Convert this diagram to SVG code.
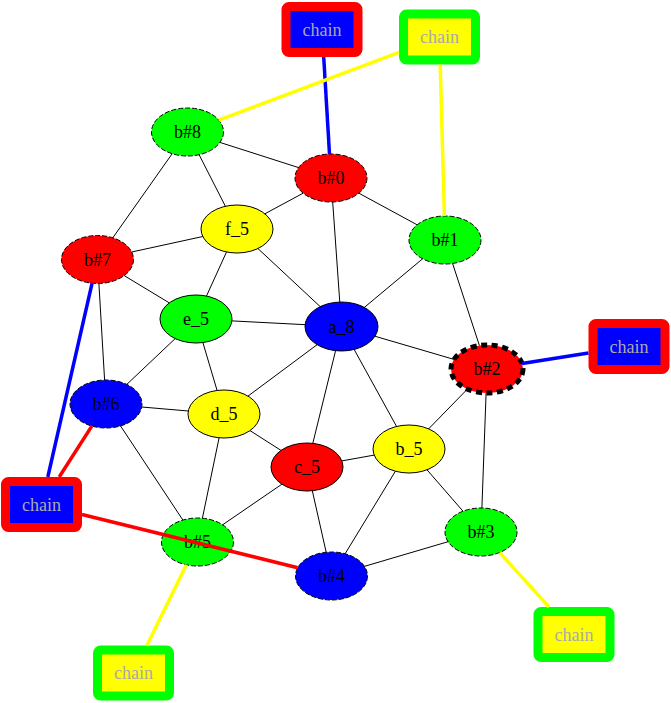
<svg xmlns="http://www.w3.org/2000/svg" width="671" height="703" viewBox="0 0 671 703">
<style>
text{font-family:"Liberation Serif","Times New Roman",serif;font-size:18px;text-anchor:middle}
.n{stroke:#000;stroke-width:1}
.d{stroke-dasharray:5,2}
.r{fill:#ff0000}.g{fill:#00ff00}.b{fill:#0000ff}.y{fill:#ffff00}
.ch{stroke-width:9}
.chr{stroke:#ff0000;fill:#0000ff}
.chg{stroke:#00ff00;fill:#ffff00}
.ct{fill:#aaaaaa}
.e line{stroke:#000;stroke-width:1}
.e line.cb{stroke:#0000ff;stroke-width:3.5}
.e line.cr{stroke:#ff0000;stroke-width:3.5}
.e line.cy{stroke:#ffff00;stroke-width:3.5}
</style>
<rect width="671" height="703" fill="#fff"/>
<g id="nodes">
<g id="b8"><ellipse class="n d g" cx="187.5" cy="132" rx="36" ry="24"/><text x="187.5" y="138">b#8</text></g>
<g id="b0"><ellipse class="n d r" cx="331" cy="178" rx="36" ry="24"/><text x="331" y="184">b#0</text></g>
<g id="f_5"><ellipse class="n y" cx="237" cy="229" rx="36" ry="24"/><text x="237" y="235">f_5</text></g>
<g id="b1"><ellipse class="n d g" cx="445" cy="240" rx="36" ry="24"/><text x="445" y="246">b#1</text></g>
<g id="b7"><ellipse class="n d r" cx="97.5" cy="259.5" rx="36" ry="24"/><text x="97.5" y="265.5">b#7</text></g>
<g id="e_5"><ellipse class="n g" cx="196" cy="319" rx="36" ry="24"/><text x="196" y="325">e_5</text></g>
<g id="a_8"><ellipse class="n b" cx="341.5" cy="326.5" rx="36.5" ry="24.5"/><text x="341.5" y="332.5">a_8</text></g>
<g id="b2"><ellipse class="r" cx="487" cy="369" rx="36" ry="24" stroke="#000" stroke-width="5" stroke-dasharray="6,4.5"/><text x="487" y="375">b#2</text></g>
<g id="b6"><ellipse class="n d b" cx="106" cy="404" rx="36" ry="24"/><text x="106" y="410">b#6</text></g>
<g id="d_5"><ellipse class="n y" cx="224" cy="414" rx="36" ry="24"/><text x="224" y="420">d_5</text></g>
<g id="b_5"><ellipse class="n y" cx="409" cy="449" rx="36" ry="24"/><text x="409" y="455">b_5</text></g>
<g id="c_5"><ellipse class="n r" cx="307" cy="467" rx="36" ry="24"/><text x="307" y="473">c_5</text></g>
<g id="b3"><ellipse class="n d g" cx="481" cy="532" rx="36" ry="24"/><text x="481" y="538">b#3</text></g>
<g id="b5"><ellipse class="n d g" cx="197.5" cy="542" rx="36" ry="24"/><text x="197.5" y="548">b#5</text></g>
<g id="b4"><ellipse class="n d b" cx="331.5" cy="576" rx="36" ry="24"/><text x="331.5" y="582">b#4</text></g>
<g id="chain1"><rect class="ch chr" x="286" y="6.5" width="72" height="46" rx="3"/><text class="ct" x="322" y="35.5">chain</text></g>
<g id="chain2"><rect class="ch chg" x="403.5" y="14" width="72" height="46" rx="3"/><text class="ct" x="439.5" y="43">chain</text></g>
<g id="chain3"><rect class="ch chr" x="593" y="323.5" width="72" height="46" rx="3"/><text class="ct" x="629" y="352.5">chain</text></g>
<g id="chain4"><rect class="ch chr" x="5.5" y="481.5" width="72" height="46" rx="3"/><text class="ct" x="41.5" y="510.5">chain</text></g>
<g id="chain5"><rect class="ch chg" x="97.5" y="650" width="72" height="46" rx="3"/><text class="ct" x="133.5" y="679">chain</text></g>
<g id="chain6"><rect class="ch chg" x="538" y="611.5" width="72" height="46" rx="3"/><text class="ct" x="574" y="640.5">chain</text></g>
</g>
<g id="connectors" class="e">
<line x1="219.9" y1="142.4" x2="298.6" y2="167.6"/>
<line x1="199.1" y1="154.7" x2="225.4" y2="206.3"/>
<line x1="172.2" y1="153.7" x2="112.8" y2="237.8"/>
<line x1="303.1" y1="193.2" x2="264.9" y2="213.8"/>
<line x1="358.9" y1="193.2" x2="417.1" y2="224.8"/>
<line x1="332.7" y1="202" x2="339.8" y2="302.5"/>
<line x1="202.8" y1="236.5" x2="131.7" y2="252"/>
<line x1="226.5" y1="252" x2="206.5" y2="296"/>
<line x1="257.9" y1="248.5" x2="320.6" y2="307"/>
<line x1="422.6" y1="258.8" x2="364" y2="307.7"/>
<line x1="452.6" y1="263.5" x2="479.4" y2="345.5"/>
<line x1="124.2" y1="275.6" x2="169.3" y2="302.9"/>
<line x1="98.9" y1="283.5" x2="104.6" y2="380"/>
<line x1="231.9" y1="320.9" x2="305.6" y2="324.7"/>
<line x1="175.2" y1="338.6" x2="126.8" y2="384.4"/>
<line x1="202.9" y1="342.6" x2="217.1" y2="390.5"/>
<line x1="374.5" y1="336.1" x2="454" y2="359.4"/>
<line x1="317.5" y1="344.4" x2="248" y2="396.1"/>
<line x1="335.7" y1="350.2" x2="312.8" y2="443.3"/>
<line x1="353.9" y1="349" x2="396.6" y2="426.5"/>
<line x1="467.4" y1="389.1" x2="428.6" y2="428.9"/>
<line x1="486.1" y1="393" x2="481.9" y2="508"/>
<line x1="141.7" y1="407" x2="188.3" y2="411"/>
<line x1="120.6" y1="426" x2="182.9" y2="520.1"/>
<line x1="219.1" y1="437.8" x2="202.4" y2="518.2"/>
<line x1="250" y1="430.6" x2="281" y2="450.4"/>
<line x1="341.8" y1="460.9" x2="374.2" y2="455.1"/>
<line x1="281.9" y1="484.2" x2="222.6" y2="524.8"/>
<line x1="312.3" y1="490.7" x2="326.2" y2="552.3"/>
<line x1="395.4" y1="471.2" x2="345.1" y2="553.8"/>
<line x1="427" y1="469.8" x2="463" y2="511.2"/>
<line x1="448.1" y1="541.7" x2="364.6" y2="566.3"/>
<line class="cb" x1="323.7" y1="57" x2="329.5" y2="154"/>
<line class="cy" x1="399" y1="52.3" x2="218.8" y2="120.2"/>
<line class="cy" x1="440.2" y1="64.5" x2="444.4" y2="216"/>
<line class="cb" x1="588.5" y1="352.9" x2="522" y2="363.5"/>
<line class="cb" x1="47.8" y1="477" x2="92.1" y2="283.2"/>
<line class="cr" x1="59.2" y1="477" x2="91.8" y2="426.1"/>
<line class="cr" x1="82" y1="514.5" x2="297.7" y2="567.7"/>
<line class="cy" x1="186.4" y1="564.8" x2="146.9" y2="645.5"/>
<line class="cy" x1="499.6" y1="552.5" x2="549" y2="607"/>
</g>
</svg>
